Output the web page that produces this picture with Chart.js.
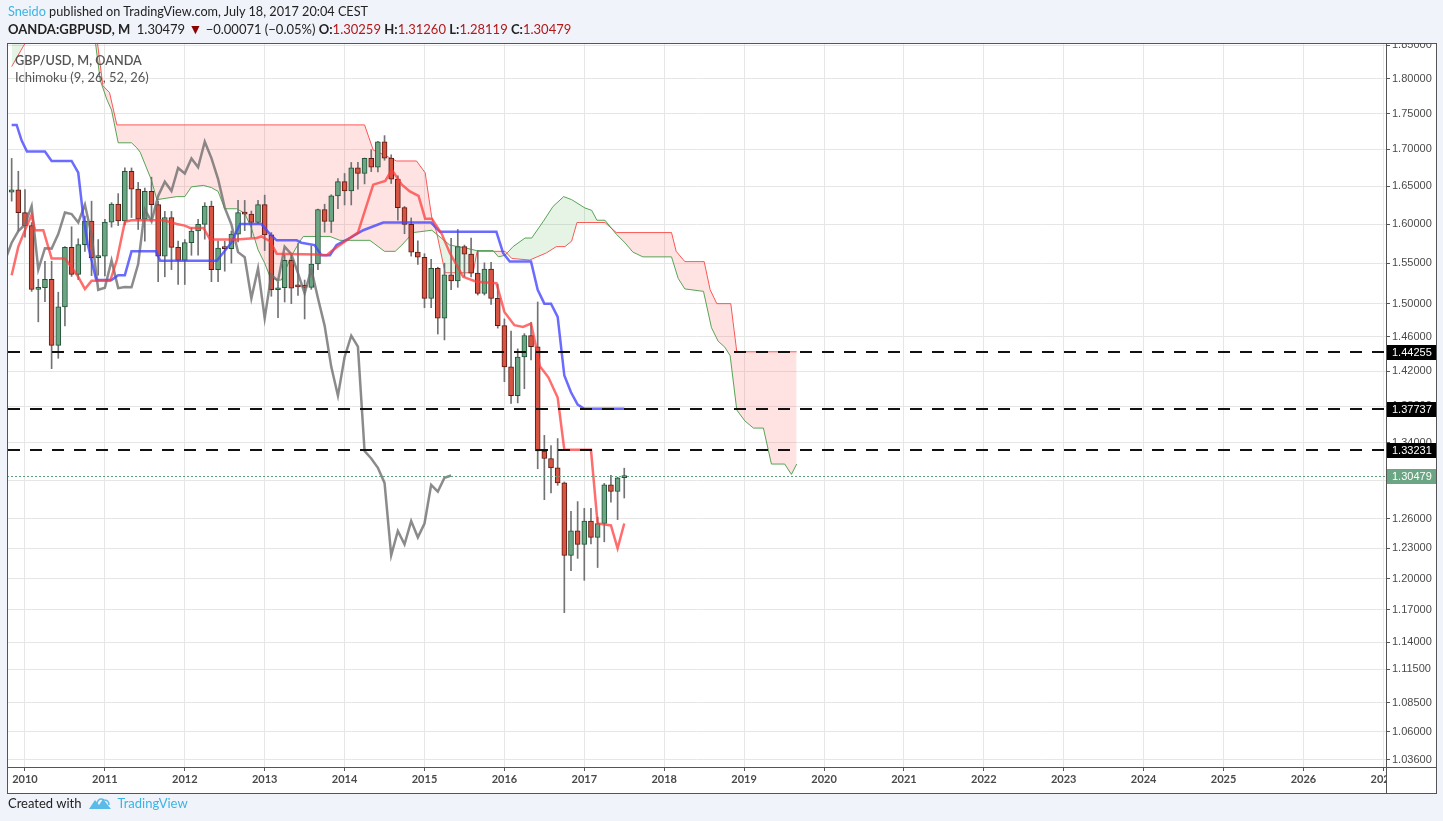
<!DOCTYPE html>
<html>
<head>
<meta charset="utf-8">
<title>GBP/USD, M, OANDA - Ichimoku</title>
<script src="https://cdn.jsdelivr.net/npm/chart.js@4.4.1/dist/chart.umd.min.js"></script>
<style>
  html, body { margin: 0; padding: 0; background: #f0f3fa; }
  body { width: 1443px; height: 821px; position: relative; overflow: hidden; font-family: Lato, "Open Sans", sans-serif; }
  #chart { position: absolute; left: 0; top: 0; }
  .line1 { position: absolute; left: 8px; top: 3px; font-size: 12.7px; color: #222; white-space: nowrap; }
  .line2 { position: absolute; left: 8px; top: 20px; font-size: 13px; color: #222; white-space: nowrap; }
  .line1 .user { color: #3bb3e4; }
  .line2 b { font-weight: 700; }
  .line2 .v { color: #b11818; }
  .line2 .dn { color: #8b0000; font-size: 14px; }
  .pane { position: absolute; left: 15px; color: #555; white-space: nowrap; }
  .footer { position: absolute; left: 8px; top: 795px; font-size: 13px; color: #222; white-space: nowrap; display: flex; align-items: center; }
  .footer .tv { color: #3bb3e4; margin-left: 5px; }
  .footer svg { margin-left: 7px; }
</style>
</head>
<body>
<canvas id="chart" width="1443" height="821"></canvas>

<div class="line1"><span class="user">Sneido</span> published on TradingView.com, July 18, 2017 20:04 CEST</div>
<div class="line2"><b>OANDA:GBPUSD, M</b>&nbsp; 1.30479 <span class="dn">&#9660;</span> &minus;0.00071 (&minus;0.05%) <b>O:</b><span class="v">1.30259</span> <b>H:</b><span class="v">1.31260</span> <b>L:</b><span class="v">1.28119</span> <b>C:</b><span class="v">1.30479</span></div>
<div class="pane" style="top:52px;font-size:12.7px;font-weight:600;">GBP/USD, M, OANDA</div>
<div class="pane" style="top:69px;font-size:13px;">Ichimoku (9, 26, 52, 26)</div>
<div class="footer">Created with
  <svg width="24" height="16" viewBox="0 0 24 16"><path d="M1 14 L7 5 L11 10 L15 4 L23 14 Z" fill="#5bbbe8"/><path d="M5 14 Q4 8 9 8 Q11 2 16 5 Q21 5 21 10" fill="none" stroke="#5bbbe8" stroke-width="1.6"/></svg>
  <span class="tv">TradingView</span></div>

<script>
// monthly candles, Nov 2009 .. Jul 2017
const months = [
  '2009-11','2009-12',
  '2010-01','2010-02','2010-03','2010-04','2010-05','2010-06','2010-07','2010-08','2010-09','2010-10','2010-11','2010-12',
  '2011-01','2011-02','2011-03','2011-04','2011-05','2011-06','2011-07','2011-08','2011-09','2011-10','2011-11','2011-12',
  '2012-01','2012-02','2012-03','2012-04','2012-05','2012-06','2012-07','2012-08','2012-09','2012-10','2012-11','2012-12',
  '2013-01','2013-02','2013-03','2013-04','2013-05','2013-06','2013-07','2013-08','2013-09','2013-10','2013-11','2013-12',
  '2014-01','2014-02','2014-03','2014-04','2014-05','2014-06','2014-07','2014-08','2014-09','2014-10','2014-11','2014-12',
  '2015-01','2015-02','2015-03','2015-04','2015-05','2015-06','2015-07','2015-08','2015-09','2015-10','2015-11','2015-12',
  '2016-01','2016-02','2016-03','2016-04','2016-05','2016-06','2016-07','2016-08','2016-09','2016-10','2016-11','2016-12',
  '2017-01','2017-02','2017-03','2017-04','2017-05','2017-06','2017-07'
];
const opens = [
  1.6420, 1.6450,
  1.6150, 1.5980, 1.5175, 1.5195, 1.5300, 1.4500, 1.4960, 1.5700, 1.5360, 1.5735, 1.6040, 1.5570,
  1.5590, 1.6025, 1.6260, 1.6040, 1.6700, 1.6460, 1.6065, 1.6430, 1.6255, 1.5590, 1.6085, 1.5700,
  1.5535, 1.5760, 1.5910, 1.5995, 1.6235, 1.5420, 1.5690, 1.5685, 1.5870, 1.6150, 1.6130, 1.6020,
  1.6255, 1.5860, 1.5170, 1.5195, 1.5535, 1.5215, 1.5205, 1.5200, 1.5490, 1.6190, 1.6035, 1.6370,
  1.6560, 1.6435, 1.6745, 1.6670, 1.6875, 1.6755, 1.7105, 1.6880, 1.6595, 1.6215, 1.5995, 1.5640,
  1.5575, 1.5065, 1.5435, 1.4825, 1.5355, 1.5280, 1.5710, 1.5615, 1.5375, 1.5125, 1.5425, 1.5065,
  1.4735, 1.4250, 1.3920, 1.4365, 1.4615, 1.4485, 1.3310, 1.3230, 1.3130, 1.2970, 1.2230, 1.2475,
  1.2340, 1.2575, 1.2410, 1.2550, 1.2950, 1.2880, 1.3026
];
const highs = [
  1.6875, 1.6700,
  1.6455, 1.6020, 1.5300, 1.5525, 1.5525, 1.5140, 1.5710, 1.5965, 1.5810, 1.6105, 1.6300, 1.5800,
  1.6060, 1.6280, 1.6400, 1.6745, 1.6745, 1.6550, 1.6475, 1.6620, 1.6300, 1.6165, 1.6165, 1.5780,
  1.5800, 1.5950, 1.6060, 1.6280, 1.6300, 1.5780, 1.5780, 1.5910, 1.6310, 1.6310, 1.6170, 1.6310,
  1.6380, 1.5890, 1.5260, 1.5600, 1.5600, 1.5750, 1.5290, 1.5720, 1.6195, 1.6260, 1.6385, 1.6600,
  1.6670, 1.6820, 1.6820, 1.6880, 1.6995, 1.7110, 1.7190, 1.6925, 1.6640, 1.6230, 1.6080, 1.5785,
  1.5620, 1.5550, 1.5450, 1.5500, 1.5815, 1.5930, 1.5730, 1.5820, 1.5660, 1.5505, 1.5510, 1.5240,
  1.4815, 1.4670, 1.4460, 1.4640, 1.4770, 1.5020, 1.3480, 1.3370, 1.3445, 1.2980, 1.2675, 1.2775,
  1.2705, 1.2705, 1.2615, 1.2965, 1.3050, 1.3030, 1.3126
];
const lows = [
  1.6300, 1.5910,
  1.5830, 1.5150, 1.4780, 1.5025, 1.4230, 1.4350, 1.4730, 1.5335, 1.5295, 1.5650, 1.5345, 1.5350,
  1.5340, 1.5960, 1.5980, 1.5990, 1.6085, 1.5930, 1.5780, 1.6060, 1.5270, 1.5330, 1.5420, 1.5235,
  1.5235, 1.5600, 1.5600, 1.5805, 1.5270, 1.5270, 1.5400, 1.5500, 1.5770, 1.5915, 1.5830, 1.6005,
  1.5660, 1.5090, 1.4830, 1.5020, 1.5000, 1.5100, 1.4815, 1.5175, 1.5420, 1.5895, 1.5890, 1.6200,
  1.6250, 1.6250, 1.6460, 1.6530, 1.6695, 1.6690, 1.6850, 1.6535, 1.6050, 1.5875, 1.5590, 1.5485,
  1.4950, 1.4950, 1.4635, 1.4565, 1.5170, 1.5200, 1.5330, 1.5330, 1.5105, 1.5105, 1.4990, 1.4705,
  1.4080, 1.3835, 1.3840, 1.4000, 1.4330, 1.3120, 1.2795, 1.2865, 1.2945, 1.1675, 1.2080, 1.2200,
  1.1985, 1.2345, 1.2110, 1.2365, 1.2770, 1.2590, 1.2812
];
const closes = [
  1.6450, 1.6150,
  1.5980, 1.5175, 1.5195, 1.5300, 1.4500, 1.4960, 1.5700, 1.5360, 1.5735, 1.6040, 1.5570, 1.5590,
  1.6025, 1.6260, 1.6040, 1.6700, 1.6460, 1.6065, 1.6430, 1.6255, 1.5590, 1.6085, 1.5700, 1.5535,
  1.5760, 1.5910, 1.5995, 1.6235, 1.5420, 1.5690, 1.5685, 1.5870, 1.6150, 1.6130, 1.6020, 1.6255,
  1.5860, 1.5170, 1.5195, 1.5535, 1.5190, 1.5205, 1.5200, 1.5490, 1.6190, 1.6035, 1.6370, 1.6560,
  1.6435, 1.6745, 1.6670, 1.6875, 1.6755, 1.7105, 1.6880, 1.6595, 1.6215, 1.5995, 1.5640, 1.5575,
  1.5065, 1.5435, 1.4825, 1.5355, 1.5280, 1.5710, 1.5615, 1.5375, 1.5125, 1.5425, 1.5065, 1.4735,
  1.4250, 1.3920, 1.4365, 1.4615, 1.4485, 1.3310, 1.3230, 1.3130, 1.2970, 1.2230, 1.2475, 1.2340,
  1.2575, 1.2410, 1.2550, 1.2950, 1.2880, 1.3025, 1.3048
];

// Ichimoku lines: positions in months from Jan 2010, and values
const tenkanAt  = [-2, -1, 0, 1, 1.5, 2.75, 4, 6, 7, 8, 9, 10, 12.8, 13.8, 15, 16, 20.8, 22.8, 24, 24.8, 26.8, 27.8, 31.8, 34.8, 35.5, 36.8, 37.8, 43.8, 45.3, 46.3, 48.8, 50, 52.3, 54.1, 55.1, 56.6, 57.8, 59.1, 60.1, 61.1, 62.6, 63.8, 65.8, 67.8, 70.8, 72, 73.5, 74.8, 76, 76.6, 77.3, 78.6, 80, 81, 85, 86, 88, 89, 90];
const tenkanVal = [1.535, 1.571, 1.592, 1.612, 1.592, 1.592, 1.556, 1.556, 1.545, 1.533, 1.518, 1.528, 1.528, 1.554, 1.603, 1.605, 1.605, 1.600, 1.598, 1.595, 1.595, 1.580, 1.580, 1.582, 1.584, 1.578, 1.562, 1.561, 1.560, 1.567, 1.582, 1.589, 1.652, 1.657, 1.672, 1.652, 1.643, 1.637, 1.607, 1.607, 1.587, 1.563, 1.533, 1.527, 1.525, 1.490, 1.474, 1.472, 1.476, 1.454, 1.426, 1.413, 1.390, 1.3323, 1.3323, 1.255, 1.253, 1.230, 1.255];

const kijunAt  = [-2, -1.25, -0.5, 0.3, 3, 4, 7, 8, 8.7, 9.4, 10.7, 13, 14, 15, 16, 19.7, 20.3, 28.8, 31, 32.3, 35.5, 36.8, 37.8, 40.8, 41.5, 43.5, 44.5, 45.8, 46.8, 48.8, 50.8, 53.8, 61, 62.3, 70.8, 71.8, 72.8, 76, 77, 78, 79, 80, 81, 82, 83, 84, 90];
const kijunVal = [1.734, 1.734, 1.712, 1.697, 1.697, 1.684, 1.684, 1.668, 1.614, 1.575, 1.529, 1.529, 1.535, 1.535, 1.565, 1.565, 1.553, 1.553, 1.576, 1.600, 1.600, 1.587, 1.579, 1.579, 1.576, 1.573, 1.560, 1.560, 1.573, 1.582, 1.592, 1.602, 1.602, 1.590, 1.590, 1.563, 1.552, 1.552, 1.517, 1.500, 1.500, 1.484, 1.415, 1.396, 1.382, 1.37737, 1.37737];

const spanAAt  = [-2, 10.2, 10.5, 11.3, 12.3, 13, 14, 16, 16.8, 17.3, 19, 19.8, 21.3, 22.8, 24, 25, 26.8, 28, 29, 30, 31.8, 33, 34, 35, 36, 36.8, 37.8, 38.5, 40, 41.3, 41.8, 45.8, 47.3, 51.8, 54, 55.6, 56.6, 58.3, 61.1, 63.8, 66.3, 67.8, 70.3, 71.1, 72.1, 73.3, 75.1, 76.1, 77.8, 79.3, 80.9, 82.1, 84.1, 85.1, 85.9, 87.1, 88.8, 90.1, 91.3, 92.8, 97.1, 98.1, 99.1, 101.9, 103.1, 104.1, 105.1, 105.9, 106.9, 108.1, 109.4, 110.9, 112.1, 114.1, 115.1, 115.9];
const spanAVal = [1.92, 1.92, 1.86, 1.798, 1.770, 1.755, 1.709, 1.709, 1.702, 1.696, 1.658, 1.632, 1.634, 1.636, 1.636, 1.649, 1.651, 1.648, 1.643, 1.620, 1.620, 1.614, 1.595, 1.567, 1.550, 1.533, 1.529, 1.529, 1.559, 1.578, 1.584, 1.584, 1.579, 1.579, 1.565, 1.565, 1.573, 1.589, 1.592, 1.573, 1.569, 1.566, 1.566, 1.558, 1.560, 1.571, 1.582, 1.582, 1.603, 1.623, 1.636, 1.632, 1.621, 1.618, 1.605, 1.605, 1.587, 1.576, 1.564, 1.558, 1.558, 1.531, 1.518, 1.515, 1.471, 1.455, 1.448, 1.438, 1.376, 1.364, 1.356, 1.356, 1.317, 1.317, 1.306, 1.317];

const spanBAt  = [-2, 1, 4, 10.3, 10.8, 11.7, 12.7, 13.8, 51, 52.3, 53.3, 55.8, 58.8, 60.1, 61.1, 61.8, 63.1, 67.3, 67.9, 72.1, 73.1, 75.8, 78.3, 79.8, 81.1, 82.1, 82.9, 87.1, 88.8, 97.1, 97.8, 99.1, 102, 102.9, 103.9, 106, 106.9, 115.9];
const spanBVal = [1.818, 1.870, 1.900, 1.900, 1.860, 1.790, 1.780, 1.734, 1.734, 1.699, 1.695, 1.684, 1.684, 1.668, 1.608, 1.590, 1.538, 1.538, 1.565, 1.565, 1.556, 1.554, 1.563, 1.571, 1.571, 1.578, 1.602, 1.602, 1.589, 1.589, 1.565, 1.552, 1.552, 1.517, 1.500, 1.500, 1.44255, 1.44255];

const chikouShift = 26;
const levels = [1.44255, 1.37737, 1.33231];
const lastClose = 1.30479;

const yTicks = [1.85, 1.80, 1.75, 1.70, 1.65, 1.60, 1.55, 1.50, 1.46, 1.42, 1.38, 1.34, 1.30, 1.26, 1.23, 1.20, 1.17, 1.14, 1.115, 1.085, 1.06, 1.036];
const yearTicks = [2010, 2011, 2012, 2013, 2014, 2015, 2016, 2017, 2018, 2019, 2020, 2021, 2022, 2023, 2024, 2025, 2026, 2027];

// helpers
const monthPos = m => { const p = m.split('-').map(Number); return (p[0] - 2010) * 12 + p[1] - 1; };
const pos = months.map(monthPos);
const pts = (xs, ys) => xs.map((x, i) => ({ x: x, y: ys[i] }));

const UP = '#6ba583', DOWN = '#d75442';
const isUp = closes.map((c, i) => c >= opens[i]);

const bodies = pos.map((x, i) => ({ x: x, y: [opens[i], closes[i]] }));
const wicks = pos.map((x, i) => ({ x: x, y: [lows[i], highs[i]] }));
const chikou = pos.map((x, i) => ({ x: x - chikouShift, y: closes[i] }));

const paneDecor = {
  id: 'paneDecor',
  beforeDraw(chart) {
    const ctx = chart.ctx;
    ctx.save();
    ctx.fillStyle = '#ffffff';
    ctx.fillRect(7, 43, 1429, 750);
    ctx.restore();
  },
  afterDatasetsDraw(chart) {
    const { ctx, chartArea: a } = chart;
    const y = chart.scales.y;
    ctx.save();
    ctx.beginPath();
    ctx.rect(a.left, a.top, a.right - a.left, a.bottom - a.top);
    ctx.clip();
    // last price
    let py = Math.round(y.getPixelForValue(lastClose)) + 0.5;
    ctx.strokeStyle = '#5f9e7b';
    ctx.lineWidth = 1;
    ctx.setLineDash([2, 2]);
    ctx.beginPath(); ctx.moveTo(a.left, py); ctx.lineTo(a.right, py); ctx.stroke();
    // drawn levels
    ctx.strokeStyle = '#111';
    ctx.lineWidth = 2;
    ctx.setLineDash([12, 10]);
    levels.forEach(v => {
      const ly = Math.round(y.getPixelForValue(v));
      ctx.beginPath(); ctx.moveTo(a.left + 1, ly); ctx.lineTo(a.right, ly); ctx.stroke();
    });
    ctx.restore();
  },
  afterDraw(chart) {
    const { ctx, chartArea: a } = chart;
    const y = chart.scales.y;
    ctx.save();
    // hide what sticks out of the pane
    ctx.fillStyle = '#ffffff';
    ctx.fillRect(a.right + 1, a.bottom + 1, 49, 25);
    ctx.fillStyle = '#f0f3fa';
    ctx.fillRect(a.right - 10, 0, 70, a.top);
    // frame
    ctx.strokeStyle = '#555';
    ctx.lineWidth = 1;
    ctx.strokeRect(7.5, 43.5, 1429, 750);
    ctx.beginPath();
    ctx.moveTo(a.right + 0.5, 43); ctx.lineTo(a.right + 0.5, 793);
    ctx.moveTo(7, a.bottom + 0.5); ctx.lineTo(1436, a.bottom + 0.5);
    ctx.stroke();
    // price tags on the axis
    ctx.font = "11px 'Liberation Sans', Arial, sans-serif";
    ctx.textBaseline = 'middle';
    const tag = (v, bg) => {
      const ty = Math.round(y.getPixelForValue(v));
      ctx.fillStyle = bg;
      ctx.fillRect(a.right + 1, ty - 7, 49, 15);
      ctx.fillStyle = '#ffffff';
      ctx.fillText(v.toFixed(5), a.right + 6, ty + 1);
    };
    tag(lastClose, '#6ba583');
    levels.forEach(v => tag(v, '#000000'));
    ctx.restore();
  }
};

Chart.defaults.font.family = "'Liberation Sans', Arial, sans-serif";
Chart.defaults.font.size = 11;
Chart.defaults.color = '#4a4a4a';

const lineDs = (label, data, color, width, order) => ({
  type: 'line', label: label, data: data, borderColor: color, borderWidth: width,
  pointRadius: 0, tension: 0, fill: false, order: order
});

new Chart(document.getElementById('chart'), {
  type: 'line',
  data: {
    datasets: [
      lineDs('Lead 2', pts(spanBAt, spanBVal), 'rgba(255,70,70,0.9)', 1, 20),
      Object.assign(lineDs('Lead 1', pts(spanAAt, spanAVal), 'rgba(70,155,70,0.9)', 1, 19), {
        fill: { target: 0, above: 'rgba(76,175,80,0.14)', below: 'rgba(255,82,82,0.17)' }
      }),
      {
        type: 'bar', label: 'wicks', data: wicks, backgroundColor: '#737375',
        barThickness: 1, minBarLength: 1, grouped: false, order: 12
      },
      {
        type: 'bar', label: 'bodies', data: bodies,
        backgroundColor: isUp.map(u => u ? UP : DOWN),
        borderColor: isUp.map(u => u ? '#225437' : '#5b1a13'),
        borderWidth: 1, borderSkipped: false, barThickness: 5, minBarLength: 2,
        grouped: false, order: 11
      },
      lineDs('Lagging Span', chikou, 'rgba(110,110,110,0.8)', 2.5, 4),
      lineDs('Base Line', pts(kijunAt, kijunVal), 'rgba(70,70,255,0.8)', 2.5, 3),
      lineDs('Conversion Line', pts(tenkanAt, tenkanVal), 'rgba(255,60,60,0.75)', 2.5, 2)
    ]
  },
  options: {
    responsive: false,
    animation: false,
    parsing: true,
    layout: { padding: { left: 7, top: 43, right: 7, bottom: 28 } },
    plugins: { legend: { display: false }, tooltip: { enabled: false } },
    scales: {
      x: {
        type: 'linear', min: -2.7, max: 204.4, offset: false,
        grid: { color: '#e6e6e6', tickColor: '#555', tickLength: 4, offset: false },
        border: { color: '#555' },
        afterBuildTicks: s => { s.ticks = yearTicks.map(yr => ({ value: (yr - 2010) * 12 })); },
        afterFit: s => { s.height = 26; },
        ticks: {
          autoSkip: false, maxRotation: 0, padding: 2,
          font: { family: 'Lato, sans-serif', weight: 'bold', size: 11 },
          color: '#4a4a4a',
          callback: v => String(2010 + v / 12)
        }
      },
      y: {
        type: 'logarithmic', position: 'right', min: 1.0301, max: 1.8531,
        grid: { color: '#e6e6e6', tickColor: '#555', tickLength: 4 },
        border: { color: '#555' },
        afterBuildTicks: s => { s.ticks = yTicks.map(v => ({ value: v })); },
        afterFit: s => { s.width = 50; },
        ticks: {
          autoSkip: false, padding: 2, color: '#4a4a4a',
          callback: v => Number(v).toFixed(5)
        }
      }
    }
  },
  plugins: [paneDecor]
});
</script>
</body>
</html>
